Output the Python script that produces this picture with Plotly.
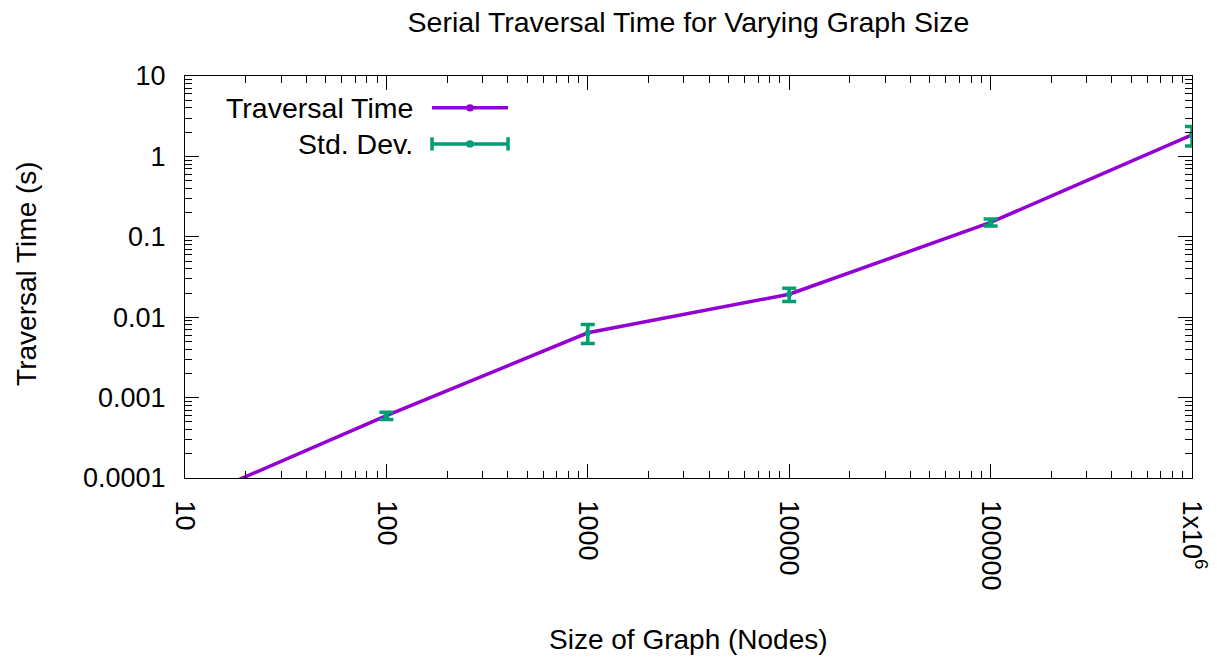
import plotly.graph_objects as go

# Data
graph_sizes = [10, 100, 1000, 10000, 100000, 1000000]
traversal_time = [4.9e-5, 5.95e-4, 0.0064, 0.0193, 0.151, 1.85]
std_dev = [5e-6, 6e-5, 0.0017, 0.0036, 0.015, 0.5]

x_tick_vals = [10, 100, 1000, 10000, 100000, 1000000]
x_tick_text = ["10", "100", "1000", "10000", "100000", "1x10<sup>6</sup>"]
y_tick_vals = [0.0001, 0.001, 0.01, 0.1, 1, 10]
y_tick_text = ["0.0001", "0.001", "0.01", "0.1", "1", "10"]

PURPLE = "#9400D3"
GREEN = "#009E73"
FONT = "Liberation Sans, Arial, sans-serif"
FS_TICK = 27
FS_TEXT = 28.5
FS_AXT = 28

fig = go.Figure()
fig.add_trace(go.Scatter(
    x=graph_sizes, y=traversal_time, mode="lines+markers",
    line=dict(color=PURPLE, width=3.5),
    marker=dict(color=PURPLE, size=5),
    name="Traversal Time", showlegend=False,
))
fig.add_trace(go.Scatter(
    x=graph_sizes, y=traversal_time, mode="markers",
    marker=dict(color=GREEN, size=6),
    error_y=dict(type="data", array=std_dev, visible=True,
                 color=GREEN, thickness=3.5, width=7),
    name="Std. Dev.", showlegend=False,
))

axis_common = dict(
    type="log", showgrid=False, zeroline=False, automargin=False,
    showline=True, linecolor="black", linewidth=1.2, mirror="ticks",
    ticks="inside", ticklen=14, tickwidth=1.2, tickcolor="black",
    tickfont=dict(family=FONT, size=FS_TICK, color="black"),
    tickmode="array",
    minor=dict(ticks="inside", ticklen=7, tickwidth=1.2, tickcolor="black",
               tickmode="linear", dtick="D1", showgrid=False),
)

fig.update_xaxes(**axis_common, range=[1, 6], tickvals=x_tick_vals,
                 ticktext=x_tick_text, tickangle=90, ticklabelstandoff=16)
fig.update_yaxes(**axis_common, range=[-4, 1], tickvals=y_tick_vals,
                 ticktext=y_tick_text, ticklabelstandoff=13)

# Legend (gnuplot style: text, then sample)
leg_text_x = 0.2284
leg_x0, leg_x1, leg_xm = 0.2453, 0.3208, 0.283
rows = [(0.921, "Traversal Time", PURPLE, False), (0.831, "Std. Dev.", GREEN, True)]
annotations = []
shapes = []
for yy, txt, col, is_err in rows:
    annotations.append(dict(x=leg_text_x, y=yy, xref="paper", yref="paper",
                            text=txt, showarrow=False, xanchor="right",
                            yanchor="middle",
                            font=dict(family=FONT, size=FS_TEXT, color="black")))
    shapes.append(dict(type="line", xref="paper", yref="paper",
                       x0=leg_x0, x1=leg_x1, y0=yy, y1=yy,
                       line=dict(color=col, width=3.5)))
    shapes.append(dict(type="circle", xref="paper", yref="paper",
                       x0=leg_xm - 0.004, x1=leg_xm + 0.004,
                       y0=yy - 0.009, y1=yy + 0.009,
                       fillcolor=col, line=dict(color=col, width=0)))
    if is_err:
        for xe in (leg_x0, leg_x1):
            shapes.append(dict(type="line", xref="paper", yref="paper",
                               x0=xe, x1=xe, y0=yy - 0.0165, y1=yy + 0.0165,
                               line=dict(color=col, width=3.5)))

annotations.append(dict(x=0.5, y=-0.4005, xref="paper", yref="paper",
                        text="Size of Graph (Nodes)", showarrow=False,
                        xanchor="center", yanchor="middle",
                        font=dict(family=FONT, size=FS_AXT, color="black")))
annotations.append(dict(x=-0.157, y=0.51, xref="paper", yref="paper",
                        text="Traversal Time (s)", showarrow=False,
                        textangle=-90, xanchor="center", yanchor="middle",
                        font=dict(family=FONT, size=FS_AXT, color="black")))

fig.update_layout(
    width=1217, height=660,
    margin=dict(l=185, r=25, t=76, b=182),
    paper_bgcolor="white", plot_bgcolor="white",
    title=dict(text="Serial Traversal Time for Varying Graph Size",
               x=0.5, xref="paper", xanchor="center",
               y=1 - 22 / 660, yref="container", yanchor="middle",
               font=dict(family=FONT, size=FS_TEXT, color="black")),
    annotations=annotations, shapes=shapes, showlegend=False,
)

fig.write_html("out.html", config={"displayModeBar": False},
               post_script="document.body.style.margin='0px';document.body.style.overflow='hidden';")
